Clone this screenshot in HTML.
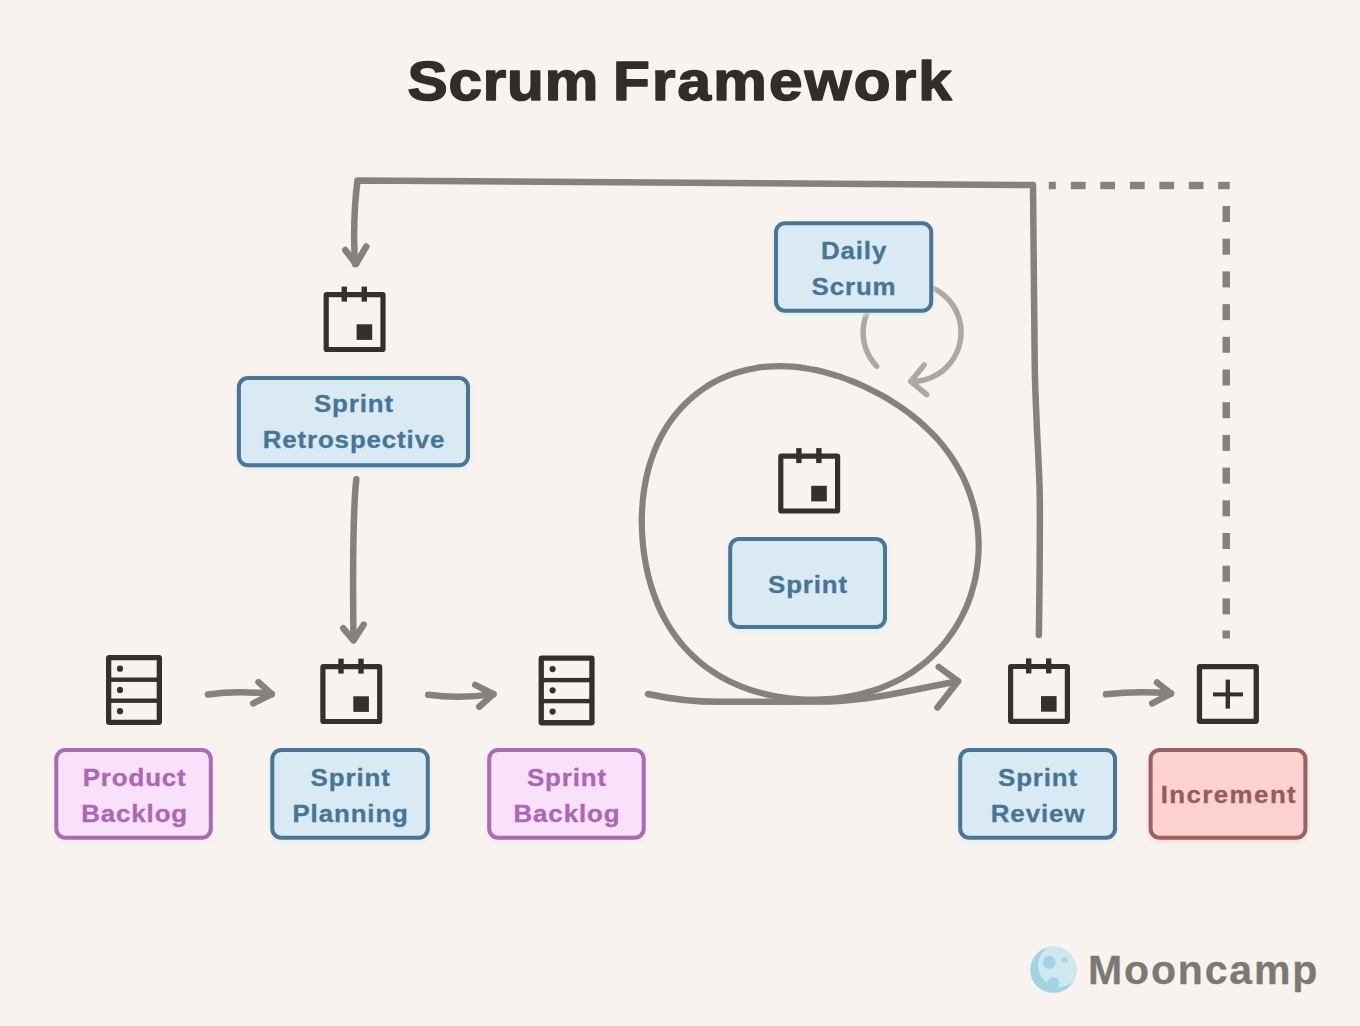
<!DOCTYPE html>
<html>
<head>
<meta charset="utf-8">
<style>
html,body{margin:0;padding:0;}
body{width:1360px;height:1026px;background:#f8f3ef;overflow:hidden;position:relative;font-family:"Liberation Sans",sans-serif;}
svg{position:absolute;left:0;top:0;}
</style>
</head>
<body>
<svg width="1360" height="1026" viewBox="0 0 1360 1026">
<defs>
<filter id="glow" x="-20%" y="-20%" width="140%" height="140%"><feGaussianBlur stdDeviation="2.5"/></filter>
<g id="cal">
<rect x="2.6" y="2.6" width="56.8" height="54.8" rx="0.5" fill="none" stroke="#33302d" stroke-width="5.2"/>
<rect x="18" y="-5.5" width="5.4" height="15" fill="#33302d"/>
<rect x="38" y="-5.5" width="5.4" height="15" fill="#33302d"/>
<rect x="33" y="32.2" width="15.6" height="15.6" fill="#33302d"/>
</g>
<g id="srv">
<rect x="2.65" y="2.65" width="50.7" height="64.7" rx="0.5" fill="none" stroke="#33302d" stroke-width="5.3"/>
<rect x="2" y="22.5" width="52" height="4.4" fill="#33302d"/>
<rect x="2" y="43.5" width="52" height="4.4" fill="#33302d"/>
<circle cx="14" cy="13.7" r="3.1" fill="#33302d"/>
<circle cx="14" cy="34.9" r="3.1" fill="#33302d"/>
<circle cx="14" cy="56.2" r="3.1" fill="#33302d"/>
</g>
</defs>
<text transform="translate(407.62,100.10) scale(1.075,1)" x="0" y="0" text-anchor="start" font-family="Liberation Sans" font-weight="bold" font-size="56" letter-spacing="0.75" fill="#302e2b" stroke="#302e2b" stroke-width="1.6" stroke-linejoin="round" paint-order="stroke">Scrum</text>
<text transform="translate(612.98,100.10) scale(1.075,1)" x="0" y="0" text-anchor="start" font-family="Liberation Sans" font-weight="bold" font-size="56" letter-spacing="2.05" fill="#302e2b" stroke="#302e2b" stroke-width="1.6" stroke-linejoin="round" paint-order="stroke">Framework</text>
<g fill="none" stroke="#85827e" stroke-width="6.5" stroke-linecap="round" stroke-linejoin="round">
<path d="M1038.9,634.9 C1039.5,590 1040,540 1039.8,500 C1039.6,465 1035.5,420 1034.7,362.9 L1033,185 L357.5,180.5 C355,200 353,230 355,264"/>
<path d="M345.2,250 L356,264 L366.3,246.5"/>
<path d="M356.3,479.3 C353,510 352.5,560 353.5,640"/>
<path d="M343.3,628.3 L353.5,640.4 L363.7,624.6"/>
<path d="M207.9,694.5 C225,692 245,691 271.8,694.1"/>
<path d="M258.5,682.2 L271.8,694.1 L253.2,703.4"/>
<path d="M428.2,694.8 C445,697 470,697.5 493.4,694.1"/>
<path d="M475.2,684.9 L493.4,694.1 L479.2,706.7"/>
<path d="M1106,694.3 C1125,692 1145,691 1171,693.6"/>
<path d="M1157,682.5 L1171,693.6 L1152.2,703.4"/>
<path d="M648,694 C670,699 690,701.8 720,701.8 L830,701.5 C880,699 920,688 958,681.2"/>
<path d="M938.8,667 L958,681.2 L937.5,707.4"/>
</g>
<path fill="none" stroke="#85827e" stroke-width="6.2" stroke-linecap="round" d="M642.7,541.7 C642.4,537.7 642.1,533.8 642.0,529.8 C641.8,525.8 641.8,521.8 641.8,517.8 C641.9,513.8 642.1,509.8 642.4,505.7 C642.6,501.7 643.0,497.6 643.6,493.5 C644.1,489.5 644.8,485.4 645.6,481.3 C646.4,477.2 647.3,473.1 648.4,469.1 C649.5,465.0 650.7,461.0 652.2,457.0 C653.6,453.0 655.1,449.0 656.9,445.1 C658.6,441.2 660.6,437.4 662.7,433.6 C664.8,429.9 667.0,426.2 669.5,422.6 C671.9,419.1 674.6,415.6 677.4,412.3 C680.2,408.9 683.1,405.7 686.3,402.7 C689.4,399.7 692.7,396.8 696.1,394.1 C699.5,391.4 703.1,388.9 706.7,386.5 C710.4,384.2 714.2,382.1 718.1,380.1 C722.0,378.2 726.0,376.5 730.0,374.9 C734.1,373.4 738.2,372.1 742.4,371.0 C746.6,369.8 750.8,368.9 755.0,368.2 C759.2,367.5 763.5,367.0 767.7,366.6 C772.0,366.3 776.2,366.2 780.4,366.2 C784.6,366.2 788.8,366.4 793.0,366.7 C797.1,367.0 801.2,367.6 805.3,368.2 C809.4,368.8 813.4,369.6 817.3,370.4 C821.3,371.3 825.2,372.3 829.1,373.4 C832.9,374.5 836.7,375.7 840.4,376.9 C844.1,378.2 847.8,379.6 851.4,381.0 C855.0,382.4 858.6,383.9 862.1,385.5 C865.6,387.1 869.0,388.8 872.4,390.5 C875.8,392.2 879.2,394.0 882.5,395.8 C885.8,397.7 889.0,399.6 892.2,401.6 C895.4,403.6 898.6,405.7 901.6,407.8 C904.7,410.0 907.8,412.2 910.7,414.5 C913.7,416.8 916.6,419.1 919.5,421.6 C922.3,424.0 925.1,426.6 927.8,429.2 C930.6,431.8 933.2,434.5 935.8,437.3 C938.3,440.1 940.8,442.9 943.2,445.9 C945.5,448.9 947.8,451.9 950.0,455.0 C952.2,458.1 954.3,461.4 956.2,464.6 C958.2,467.9 960.0,471.3 961.8,474.7 C963.5,478.1 965.1,481.6 966.6,485.2 C968.1,488.7 969.4,492.3 970.6,496.0 C971.8,499.6 972.9,503.4 973.9,507.1 C974.8,510.9 975.6,514.7 976.3,518.5 C977.0,522.3 977.5,526.1 977.9,530.0 C978.3,533.9 978.5,537.8 978.6,541.7 C978.7,545.5 978.7,549.4 978.5,553.3 C978.3,557.2 978.0,561.1 977.5,565.0 C977.0,568.9 976.4,572.7 975.7,576.6 C974.9,580.4 974.0,584.2 972.9,588.0 C971.9,591.7 970.7,595.5 969.4,599.2 C968.0,602.8 966.6,606.5 965.0,610.0 C963.3,613.6 961.6,617.1 959.7,620.5 C957.8,623.9 955.8,627.3 953.7,630.6 C951.5,633.8 949.2,637.0 946.8,640.1 C944.4,643.1 941.9,646.1 939.3,649.0 C936.6,651.8 933.9,654.6 931.1,657.2 C928.2,659.9 925.3,662.4 922.2,664.8 C919.2,667.2 916.1,669.4 912.9,671.6 C909.7,673.7 906.4,675.7 903.1,677.6 C899.7,679.5 896.3,681.2 892.9,682.8 C889.4,684.5 885.9,686.0 882.4,687.3 C878.9,688.7 875.3,689.9 871.7,691.0 C868.1,692.2 864.5,693.2 860.9,694.0 C857.3,694.9 853.6,695.7 849.9,696.4 C846.3,697.0 842.6,697.6 838.9,698.0 C835.3,698.5 831.6,698.8 827.9,699.1 C824.2,699.3 820.6,699.5 816.9,699.6 C813.2,699.6 809.5,699.6 805.9,699.5 C802.2,699.3 798.5,699.1 794.8,698.8 C791.2,698.5 787.5,698.1 783.9,697.6 C780.2,697.1 776.6,696.5 772.9,695.7 C769.3,695.0 765.7,694.2 762.1,693.3 C758.5,692.4 754.9,691.3 751.4,690.2 C747.8,689.0 744.3,687.7 740.8,686.3 C737.3,684.9 733.9,683.4 730.5,681.8 C727.1,680.1 723.7,678.4 720.4,676.5 C717.2,674.6 713.9,672.5 710.8,670.4 C707.6,668.2 704.6,666.0 701.6,663.6 C698.6,661.2 695.7,658.6 693.0,656.0 C690.2,653.4 687.5,650.6 684.9,647.7 C682.4,644.9 679.9,641.9 677.6,638.8 C675.3,635.8 673.0,632.6 670.9,629.4 C668.8,626.2 666.9,622.8 665.0,619.5 C663.2,616.1 661.4,612.6 659.8,609.1 C658.2,605.6 656.7,602.0 655.4,598.4 C654.0,594.8 652.7,591.2 651.6,587.5 C650.4,583.8 649.4,580.0 648.4,576.3 C647.5,572.5 646.7,568.7 645.9,564.9 C645.2,561.1 644.6,557.2 644.0,553.4 C643.5,549.5 643.0,545.6 642.7,541.7 Z"/>
<g fill="#85827e">
<rect x="1048.8" y="181.8" width="7" height="7.4"/>
<rect x="1070.9" y="181.8" width="14.7" height="7.4"/>
<rect x="1100.3" y="181.8" width="14.7" height="7.4"/>
<rect x="1130" y="181.8" width="14.7" height="7.4"/>
<rect x="1159.4" y="181.8" width="14.7" height="7.4"/>
<rect x="1188.8" y="181.8" width="14.7" height="7.4"/>
<rect x="1218.2" y="181.8" width="11.5" height="7.4"/>
<rect x="1222.5" y="206.0" width="7.5" height="16"/>
<rect x="1222.5" y="238.7" width="7.5" height="16"/>
<rect x="1222.5" y="271.4" width="7.5" height="16"/>
<rect x="1222.5" y="304.1" width="7.5" height="16"/>
<rect x="1222.5" y="336.8" width="7.5" height="16"/>
<rect x="1222.5" y="369.5" width="7.5" height="16"/>
<rect x="1222.5" y="402.2" width="7.5" height="16"/>
<rect x="1222.5" y="434.9" width="7.5" height="16"/>
<rect x="1222.5" y="467.6" width="7.5" height="16"/>
<rect x="1222.5" y="500.3" width="7.5" height="16"/>
<rect x="1222.5" y="533.0" width="7.5" height="16"/>
<rect x="1222.5" y="565.7" width="7.5" height="16"/>
<rect x="1222.5" y="598.4" width="7.5" height="16"/>
<rect x="1222.5" y="630.5" width="7.5" height="8"/>
</g>
<g fill="none" stroke="#aca8a3" stroke-width="5.5" stroke-linecap="round" stroke-linejoin="round">
<path d="M876.6,366.2 A49,49 0 1 1 910.8,381.4"/>
<path d="M924.1,365 L910.8,381.4 L926.7,394.7"/>
</g>
<use href="#srv" x="106" y="655"/>
<use href="#srv" x="538.6" y="655.4"/>
<use href="#cal" x="323.6" y="292.1"/>
<use href="#cal" x="320.3" y="664.1"/>
<use href="#cal" x="778.2" y="453.6"/>
<use href="#cal" x="1008" y="663.9"/>
<rect x="1199.45" y="666.55" width="56.8" height="54.8" rx="0.5" fill="none" stroke="#33302d" stroke-width="5.3"/>
<rect x="1213" y="692.4" width="30" height="4" fill="#33302d"/>
<rect x="1225.6" y="679.6" width="4.4" height="29" fill="#33302d"/>
<rect x="54.30" y="750.00" width="158.50" height="91.80" rx="11" fill="#f8e1f9" opacity="0.9" filter="url(#glow)"/><rect x="56.30" y="750.00" width="154.50" height="87.80" rx="9" fill="#f8e1f9" stroke="#a86bb4" stroke-width="4"/>
<rect x="270.30" y="750.00" width="159.50" height="91.80" rx="11" fill="#d9eaf4" opacity="0.9" filter="url(#glow)"/><rect x="272.30" y="750.00" width="155.50" height="87.80" rx="9" fill="#d9eaf4" stroke="#4a7594" stroke-width="4"/>
<rect x="487.20" y="750.00" width="158.50" height="91.80" rx="11" fill="#f8e1f9" opacity="0.9" filter="url(#glow)"/><rect x="489.20" y="750.00" width="154.50" height="87.80" rx="9" fill="#f8e1f9" stroke="#a86bb4" stroke-width="4"/>
<rect x="958.20" y="750.00" width="158.80" height="91.80" rx="11" fill="#d9eaf4" opacity="0.9" filter="url(#glow)"/><rect x="960.20" y="750.00" width="154.80" height="87.80" rx="9" fill="#d9eaf4" stroke="#4a7594" stroke-width="4"/>
<rect x="1148.60" y="750.00" width="158.80" height="91.80" rx="11" fill="#fdd2d1" opacity="0.9" filter="url(#glow)"/><rect x="1150.60" y="750.00" width="154.80" height="87.80" rx="9" fill="#fdd2d1" stroke="#9d6062" stroke-width="4"/>
<rect x="236.90" y="378.10" width="233.10" height="91.20" rx="11" fill="#d9eaf4" opacity="0.9" filter="url(#glow)"/><rect x="238.90" y="378.10" width="229.10" height="87.20" rx="9" fill="#d9eaf4" stroke="#4a7594" stroke-width="4"/>
<rect x="774.00" y="223.20" width="159.20" height="91.50" rx="11" fill="#d9eaf4" opacity="0.9" filter="url(#glow)"/><rect x="776.00" y="223.20" width="155.20" height="87.50" rx="9" fill="#d9eaf4" stroke="#4a7594" stroke-width="4"/>
<rect x="728.20" y="539.00" width="158.80" height="92.00" rx="11" fill="#d9eaf4" opacity="0.9" filter="url(#glow)"/><rect x="730.20" y="539.00" width="154.80" height="88.00" rx="9" fill="#d9eaf4" stroke="#4a7594" stroke-width="4"/>
<text transform="translate(134.63,785.50) scale(1.08,1)" x="0" y="0" text-anchor="middle" font-family="Liberation Sans" font-weight="bold" font-size="24" letter-spacing="0.8" fill="#ae65b6" stroke="#ae65b6" stroke-width="0.3" stroke-linejoin="round" paint-order="stroke">Product</text>
<text transform="translate(134.63,821.50) scale(1.08,1)" x="0" y="0" text-anchor="middle" font-family="Liberation Sans" font-weight="bold" font-size="24" letter-spacing="0.8" fill="#ae65b6" stroke="#ae65b6" stroke-width="0.3" stroke-linejoin="round" paint-order="stroke">Backlog</text>
<text transform="translate(566.93,785.50) scale(1.08,1)" x="0" y="0" text-anchor="middle" font-family="Liberation Sans" font-weight="bold" font-size="24" letter-spacing="0.8" fill="#ae65b6" stroke="#ae65b6" stroke-width="0.3" stroke-linejoin="round" paint-order="stroke">Sprint</text>
<text transform="translate(566.93,821.50) scale(1.08,1)" x="0" y="0" text-anchor="middle" font-family="Liberation Sans" font-weight="bold" font-size="24" letter-spacing="0.8" fill="#ae65b6" stroke="#ae65b6" stroke-width="0.3" stroke-linejoin="round" paint-order="stroke">Backlog</text>
<text transform="translate(350.63,785.50) scale(1.08,1)" x="0" y="0" text-anchor="middle" font-family="Liberation Sans" font-weight="bold" font-size="24" letter-spacing="0.8" fill="#497594" stroke="#497594" stroke-width="0.3" stroke-linejoin="round" paint-order="stroke">Sprint</text>
<text transform="translate(350.63,821.50) scale(1.08,1)" x="0" y="0" text-anchor="middle" font-family="Liberation Sans" font-weight="bold" font-size="24" letter-spacing="0.8" fill="#497594" stroke="#497594" stroke-width="0.3" stroke-linejoin="round" paint-order="stroke">Planning</text>
<text transform="translate(1038.03,785.50) scale(1.08,1)" x="0" y="0" text-anchor="middle" font-family="Liberation Sans" font-weight="bold" font-size="24" letter-spacing="0.8" fill="#497594" stroke="#497594" stroke-width="0.3" stroke-linejoin="round" paint-order="stroke">Sprint</text>
<text transform="translate(1038.03,821.50) scale(1.08,1)" x="0" y="0" text-anchor="middle" font-family="Liberation Sans" font-weight="bold" font-size="24" letter-spacing="0.8" fill="#497594" stroke="#497594" stroke-width="0.3" stroke-linejoin="round" paint-order="stroke">Review</text>
<text transform="translate(353.93,412.00) scale(1.08,1)" x="0" y="0" text-anchor="middle" font-family="Liberation Sans" font-weight="bold" font-size="24" letter-spacing="0.8" fill="#497594" stroke="#497594" stroke-width="0.3" stroke-linejoin="round" paint-order="stroke">Sprint</text>
<text transform="translate(353.93,448.20) scale(1.08,1)" x="0" y="0" text-anchor="middle" font-family="Liberation Sans" font-weight="bold" font-size="24" letter-spacing="0.8" fill="#497594" stroke="#497594" stroke-width="0.3" stroke-linejoin="round" paint-order="stroke">Retrospective</text>
<text transform="translate(854.03,259.00) scale(1.08,1)" x="0" y="0" text-anchor="middle" font-family="Liberation Sans" font-weight="bold" font-size="24" letter-spacing="0.8" fill="#497594" stroke="#497594" stroke-width="0.3" stroke-linejoin="round" paint-order="stroke">Daily</text>
<text transform="translate(854.03,295.00) scale(1.08,1)" x="0" y="0" text-anchor="middle" font-family="Liberation Sans" font-weight="bold" font-size="24" letter-spacing="0.8" fill="#497594" stroke="#497594" stroke-width="0.3" stroke-linejoin="round" paint-order="stroke">Scrum</text>
<text transform="translate(808.03,592.60) scale(1.08,1)" x="0" y="0" text-anchor="middle" font-family="Liberation Sans" font-weight="bold" font-size="24" letter-spacing="0.8" fill="#497594" stroke="#497594" stroke-width="0.3" stroke-linejoin="round" paint-order="stroke">Sprint</text>
<text transform="translate(1228.90,803.30) scale(1.08,1)" x="0" y="0" text-anchor="middle" font-family="Liberation Sans" font-weight="bold" font-size="24" letter-spacing="1.3" fill="#985b5d" stroke="#985b5d" stroke-width="0.3" stroke-linejoin="round" paint-order="stroke">Increment</text>
<clipPath id="moonclip"><circle cx="1053.4" cy="969.8" r="23.2"/></clipPath>
<circle cx="1053.4" cy="969.8" r="23.2" fill="#a3d3e3"/>
<g clip-path="url(#moonclip)"><circle cx="1059.5" cy="965.5" r="21.5" fill="#cde8f1"/></g>
<circle cx="1049.3" cy="962.3" r="6.5" fill="#a3d3e3"/>
<circle cx="1064.7" cy="959.9" r="3" fill="#a8d5e4"/>
<circle cx="1053.4" cy="983" r="6" fill="#a3d3e3"/>
<text transform="translate(1088.00,984.30) scale(1.0,1)" x="0" y="0" text-anchor="start" font-family="Liberation Sans" font-weight="bold" font-size="41" letter-spacing="1.85" fill="#7c7975" stroke="#7c7975" stroke-width="0.3" stroke-linejoin="round" paint-order="stroke">Mooncamp</text>
</svg>
</body>
</html>
